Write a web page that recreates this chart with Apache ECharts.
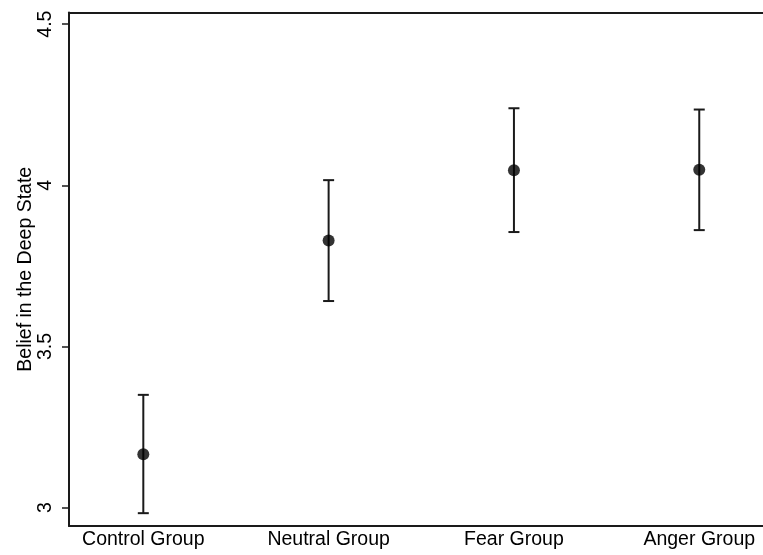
<!DOCTYPE html>
<html>
<head>
<meta charset="utf-8">
<script src="https://cdn.jsdelivr.net/npm/echarts@6/dist/echarts.min.js"></script>
<style>
  html, body { margin: 0; padding: 0; background: #fff; }
  #chart { width: 763px; height: 555px; }
</style>
</head>
<body>
<div id="chart"></div>
<script>
// Group labels and estimated means with 95% confidence bounds
var categories = ['Control Group', 'Neutral Group', 'Fear Group', 'Anger Group'];
var means = [3.166, 3.829, 4.047, 4.048];
var lowerCI = [2.983, 3.641, 3.855, 3.861];
var upperCI = [3.350, 4.016, 4.239, 4.235];
var yTicks = [3, 3.5, 4, 4.5];
var xPositions = [1, 2, 3, 4];

var FONT = 'Liberation Sans, Arial, Helvetica, sans-serif';
var INK = '#1a1a1a';

var pointData = means.map(function (m, i) { return [xPositions[i], m]; });
var barData = means.map(function (m, i) { return [xPositions[i], lowerCI[i], upperCI[i]]; });

var chart = echarts.init(document.getElementById('chart'), null, { renderer: 'canvas' });

chart.setOption({
  animation: false,
  backgroundColor: '#fff',
  grid: { left: 69, right: 0, top: 12.5, bottom: 29, containLabel: false },
  xAxis: [{
    type: 'value',
    min: 0.599,
    max: 4.344,
    axisLine: { show: true, onZero: false, lineStyle: { color: INK, width: 2 } },
    axisTick: { show: false },
    splitLine: { show: false },
    axisLabel: {
      customValues: xPositions,
      margin: 4,
      color: '#000',
      fontFamily: FONT,
      fontSize: 19.5,
      formatter: function (v) {
        var i = xPositions.indexOf(Math.round(v));
        return i >= 0 ? categories[i] : '';
      }
    }
  }, {
    type: 'value',
    position: 'top',
    min: 0.599,
    max: 4.344,
    axisLine: { show: true, onZero: false, lineStyle: { color: INK, width: 2 } },
    axisTick: { show: false },
    axisLabel: { show: false },
    splitLine: { show: false }
  }],
  yAxis: {
    type: 'value',
    min: 2.9432,
    max: 4.536,
    name: 'Belief in the Deep State',
    nameLocation: 'middle',
    nameGap: 33,
    nameMoveOverlap: false,
    nameTextStyle: { color: '#000', fontFamily: FONT, fontSize: 19.5 },
    axisLine: { show: true, onZero: false, lineStyle: { color: INK, width: 2 } },
    axisTick: { show: true, customValues: yTicks, length: 7, lineStyle: { color: INK, width: 1.5 } },
    splitLine: { show: false },
    axisLabel: {
      customValues: yTicks,
      rotate: 90,
      margin: 13,
      color: '#000',
      fontFamily: FONT,
      fontSize: 19.5
    }
  },
  series: [{
    type: 'custom',
    xAxisIndex: 0,
    data: barData,
    renderItem: function (params, api) {
      var x = api.value(0);
      var lo = api.coord([x, api.value(1)]);
      var hi = api.coord([x, api.value(2)]);
      var half = 5.5;
      var style = { stroke: INK, lineWidth: 2 };
      return {
        type: 'group',
        children: [
          { type: 'line', shape: { x1: lo[0], y1: lo[1], x2: hi[0], y2: hi[1] }, style: style },
          { type: 'line', shape: { x1: lo[0] - half, y1: lo[1], x2: lo[0] + half, y2: lo[1] }, style: style },
          { type: 'line', shape: { x1: hi[0] - half, y1: hi[1], x2: hi[0] + half, y2: hi[1] }, style: style }
        ]
      };
    },
    z: 2
  }, {
    type: 'scatter',
    xAxisIndex: 0,
    data: pointData,
    symbol: 'circle',
    symbolSize: 12,
    itemStyle: { color: '#000' },
    z: 3
  }]
});
</script>
</body>
</html>
